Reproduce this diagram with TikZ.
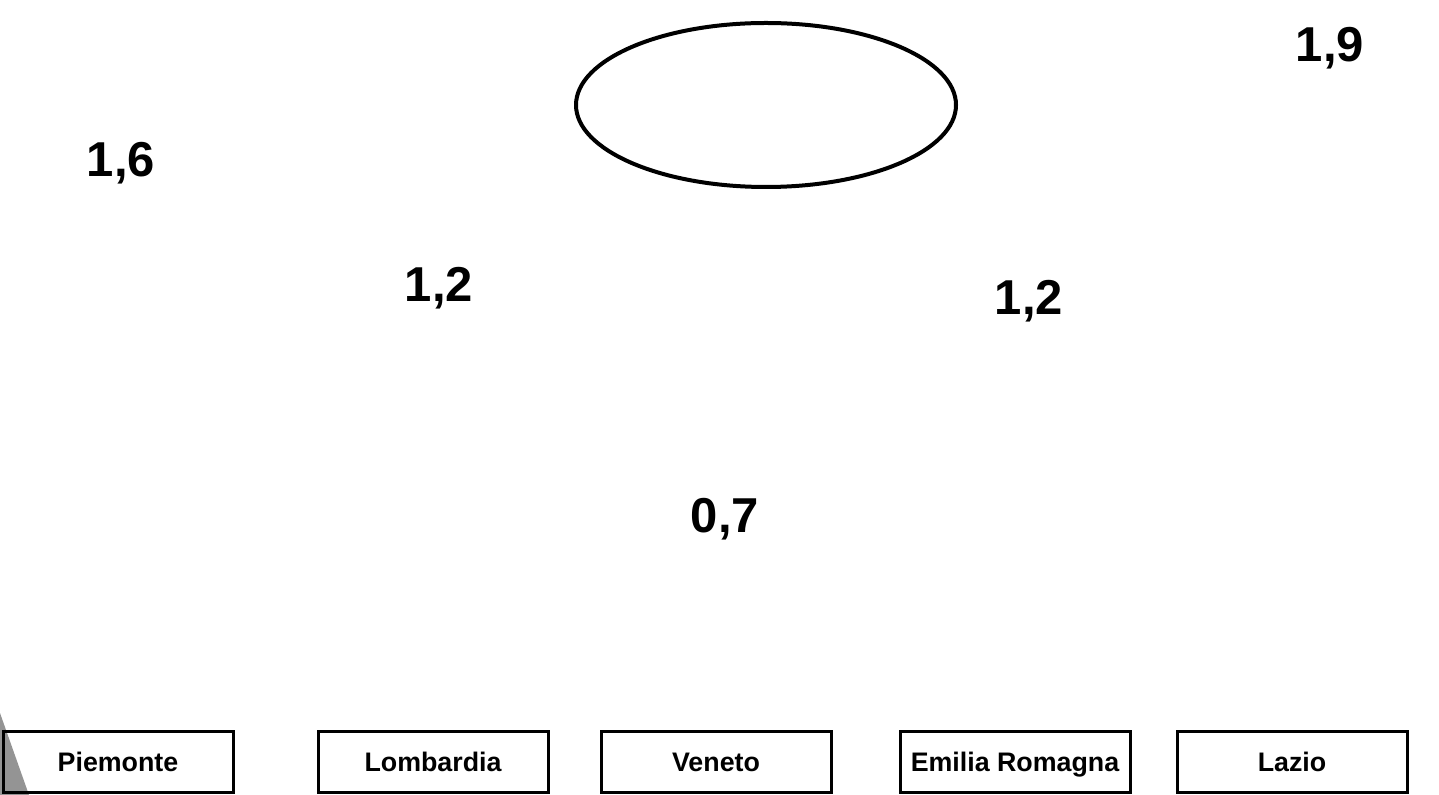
\documentclass[tikz,border=0pt]{standalone}
\usepackage{fontspec}
\setmainfont{Liberation Sans}
\usetikzlibrary{shapes.geometric}

\begin{document}
\begin{tikzpicture}[x=0.5pt, y=-0.5pt,
    regione/.style={draw, line width=1.5pt, minimum width=115pt, minimum height=30.5pt,
        inner sep=0pt, text height=9.5pt, text depth=0pt,
        font=\fontsize{13.4}{16}\selectfont\bfseries},
    valore/.style={anchor=base, inner sep=0pt, font=\fontsize{24.5}{29}\selectfont\bfseries}]
    \useasboundingbox (0,0) rectangle (1439,795);
    % grey corner
    \fill[black!42] (0,713) -- (29,795) -- (0,795) -- cycle;
    % ellipse
    \node[draw, ellipse, line width=2pt, minimum width=190pt, minimum height=82pt] (cerchio) at (766,105) {};
    % values
    \node[valore] (v19) at (1330,62) {1,9};
    \node[valore] (v16) at (121,177) {1,6};
    \node[valore] (v12a) at (439,302) {1,2};
    \node[valore] (v12b) at (1029,315) {1,2};
    \node[valore] (v07) at (725,533) {0,7};
    % regions
    \node[regione] (piemonte) at (118,762) {Piemonte};
    \node[regione] (lombardia) at (433,762) {Lombardia};
    \node[regione] (veneto) at (716,762) {Veneto};
    \node[regione] (emilia) at (1015,762) {Emilia Romagna};
    \node[regione] (lazio) at (1292,762) {Lazio};
\end{tikzpicture}
\end{document}
